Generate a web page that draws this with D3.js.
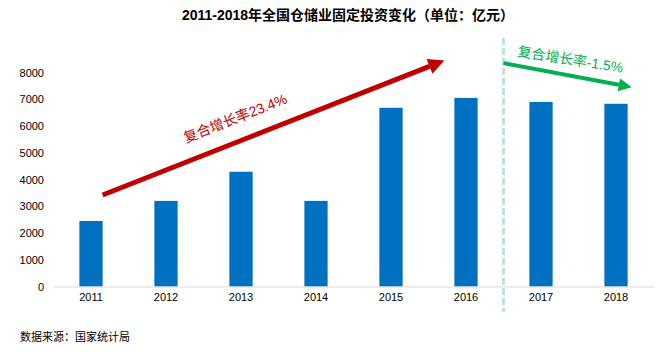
<!DOCTYPE html>
<html>
<head>
<meta charset="utf-8">
<script src="https://cdn.jsdelivr.net/npm/d3@7"></script>
<style>
  body { margin: 0; background: #fff; }
  text { font-family: "Liberation Sans", Arial, "Noto Sans CJK SC", sans-serif; }
</style>
</head>
<body>
<div id="chart"></div>
<script>
var years = ["2011", "2012", "2013", "2014", "2015", "2016", "2017", "2018"];
var invest = [2450, 3200, 4290, 3200, 6680, 7050, 6900, 6830];
var yTicks = [0, 1000, 2000, 3000, 4000, 5000, 6000, 7000, 8000];

var svgWidth = 658;
var svgHeight = 354;

var svg = d3.select("#chart")
  .append("svg")
  .attr("width", svgWidth)
  .attr("height", svgHeight);

var x = d3.scaleBand()
  .domain(years)
  .range([53.5, 653.5])
  .paddingInner(0.69)
  .paddingOuter(0.345);

var y = d3.scaleLinear()
  .domain([0, 8000])
  .range([286.5, 72.5]);

// title
svg.append("text")
  .attr("x", 348)
  .attr("y", 20)
  .attr("text-anchor", "middle")
  .style("font-size", "14px")
  .style("font-weight", "bold")
  .text("2011-2018年全国仓储业固定投资变化（单位：亿元）");

// y axis, labels only
var leftAxis = d3.axisLeft(y).tickValues(yTicks).tickFormat(d3.format("d")).tickSize(0).tickPadding(9);
var gy = svg.append("g")
  .attr("transform", "translate(53,0)")
  .call(leftAxis);
gy.select(".domain").remove();
gy.selectAll("text").style("font-size", "11px").attr("fill", "#000")
  .style("font-family", "'Liberation Sans', Arial, sans-serif");

// bars
svg.selectAll("rect.bar")
  .data(years)
  .enter()
  .append("rect")
  .attr("class", "bar")
  .attr("x", d => x(d))
  .attr("width", x.bandwidth())
  .attr("y", (d, i) => y(invest[i]))
  .attr("height", (d, i) => y(0) - y(invest[i]))
  .attr("fill", "#0070c0");

// x axis
var bottomAxis = d3.axisBottom(x).tickSize(0).tickPadding(7);
var gx = svg.append("g")
  .attr("transform", `translate(0, ${y(0)})`)
  .call(bottomAxis);
gx.select(".domain").attr("stroke", "#d9d9d9");
gx.selectAll("text").style("font-size", "11px").attr("fill", "#000")
  .style("font-family", "'Liberation Sans', Arial, sans-serif");

// divider between 2016 and 2017
var divX = (x("2016") + x.bandwidth() + x("2017")) / 2;
svg.append("line")
  .attr("x1", divX).attr("x2", divX)
  .attr("y1", 38).attr("y2", 312)
  .attr("stroke", "#bfe0e3")
  .attr("stroke-width", 3)
  .attr("stroke-dasharray", "7,3");

// arrows
function arrow(x1, y1, x2, y2, color, w, head) {
  var ang = Math.atan2(y2 - y1, x2 - x1);
  var bx = x2 - head * Math.cos(ang), by = y2 - head * Math.sin(ang);
  svg.append("line")
    .attr("x1", x1).attr("y1", y1)
    .attr("x2", bx).attr("y2", by)
    .attr("stroke", color).attr("stroke-width", w);
  var hw = head * 0.5;
  var pts = [
    [x2, y2],
    [bx + hw * Math.sin(ang), by - hw * Math.cos(ang)],
    [bx - hw * Math.sin(ang), by + hw * Math.cos(ang)]
  ];
  svg.append("polygon")
    .attr("points", pts.map(p => p.join(",")).join(" "))
    .attr("fill", color);
}

// red: 2011 -> 2016
arrow(x("2011") + x.bandwidth(), y(3420), x("2016") - 10, y(8450), "#c00000", 5, 16);
var ra = Math.atan2(y(8450) - y(3420), x("2016") - 10 - x("2011") - x.bandwidth()) * 180 / Math.PI;
svg.append("text")
  .attr("transform", `translate(186, 143) rotate(${ra})`)
  .attr("fill", "#c00000")
  .style("font-size", "14px")
  .text("复合增长率23.4%");

// green: 2016 -> 2018
arrow(divX, y(8350), x("2018") + x.bandwidth() + 4, y(7450), "#00b050", 4, 13);
svg.append("text")
  .attr("transform", `translate(517, 56) rotate(9)`)
  .attr("fill", "#00b050")
  .style("font-size", "14px")
  .text("复合增长率-1.5%");

// source
svg.append("text")
  .attr("x", 20)
  .attr("y", 341)
  .style("font-size", "11px")
  .text("数据来源：国家统计局");
</script>
</body>
</html>
